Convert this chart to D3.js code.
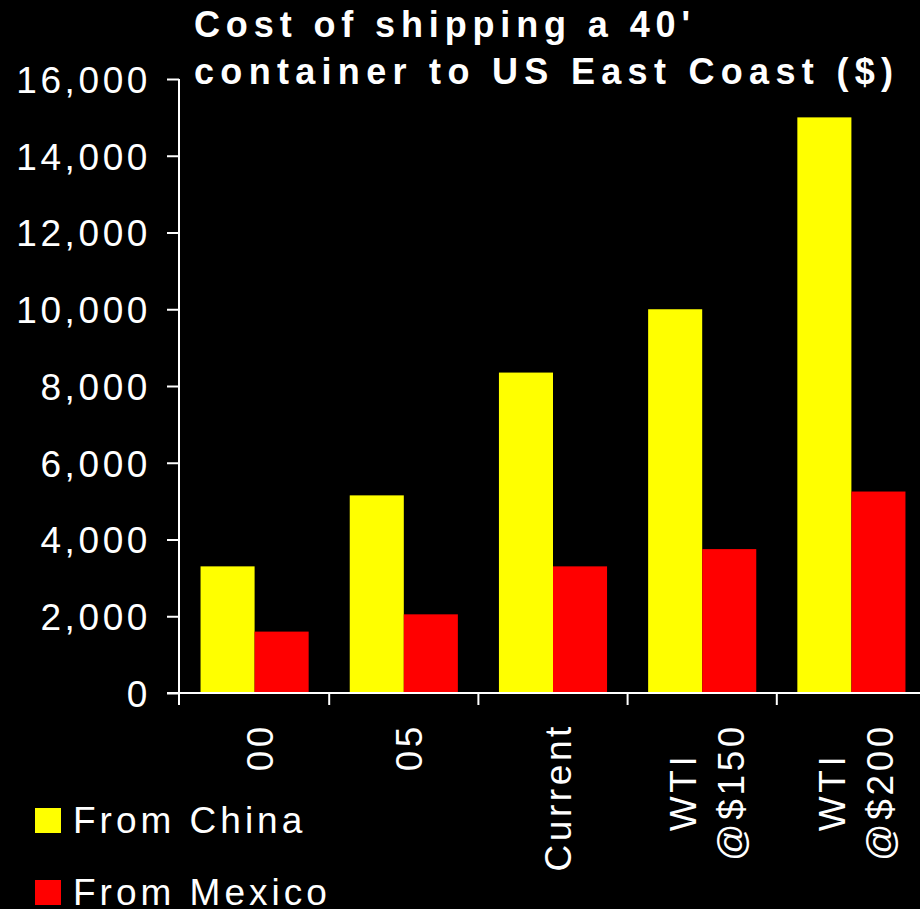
<!DOCTYPE html>
<html>
<head>
<meta charset="utf-8">
<script src="https://cdn.jsdelivr.net/npm/d3@7"></script>
<style>
  html, body { margin: 0; padding: 0; background: #000; }
  svg { display: block; }
  text { font-family: "Liberation Sans", Arial, sans-serif; fill: #fff; }
</style>
</head>
<body>
<div id="chart"></div>
<script>
// chart data
let categories = [["00"], ["05"], ["Current"], ["WTI", "@$150"], ["WTI", "@$200"]];
let fromChina = [3300, 5150, 8350, 10000, 15000];
let fromMexico = [1600, 2050, 3300, 3750, 5250];
let seriesNames = ["From China", "From Mexico"];
let seriesColors = ["#ffff00", "#ff0000"];
let yTicks = [0, 2000, 4000, 6000, 8000, 10000, 12000, 14000, 16000];
let titleLines = ["Cost of shipping a 40'", "container to US East Coast ($)"];

let width = 920, height = 909;
let plotLeft = 179, plotRight = 926, plotTop = 79, plotBottom = 693;

let svg = d3.select("#chart")
    .append("svg")
    .attr("width", width)
    .attr("height", height);

svg.append("rect").attr("width", width).attr("height", height).attr("fill", "#000");

let keys = categories.map(c => c.join(" "));

let x = d3.scaleBand()
    .domain(keys)
    .range([plotLeft + 1, plotRight])
    .padding(0);

let xSub = d3.scaleBand()
    .domain([0, 1])
    .range([0, x.bandwidth()])
    .paddingInner(0)
    .paddingOuter(0.38);

let y = d3.scaleLinear()
    .domain([0, 16000])
    .range([plotBottom, plotTop]);

let series = [fromChina, fromMexico];

// bars
series.forEach(function(vals, s) {
    svg.append("g").selectAll("rect")
        .data(vals)
        .enter()
        .append("rect")
        .attr("x", (d, i) => x(keys[i]) + xSub(s))
        .attr("y", d => y(d))
        .attr("width", xSub.bandwidth())
        .attr("height", d => plotBottom - y(d))
        .attr("fill", seriesColors[s]);
});

// y axis
let yAxis = d3.axisLeft(y)
    .tickValues(yTicks)
    .tickSize(12)
    .tickSizeOuter(0)
    .tickFormat(d3.format(","));

let yg = svg.append("g")
    .attr("transform", "translate(" + plotLeft + ",0)")
    .call(yAxis);
yg.select(".domain").remove();
yg.selectAll(".tick line").attr("stroke", "#fff").attr("stroke-width", 2);
yg.selectAll(".tick text")
    .attr("x", -28)
    .attr("dy", "0.36em")
    .style("font-size", "37px")
    .style("letter-spacing", "3.6px")
    .attr("fill", "#fff");

// axis lines
svg.append("line")
    .attr("x1", plotLeft).attr("x2", plotLeft)
    .attr("y1", plotTop).attr("y2", plotBottom + 12)
    .attr("stroke", "#fff").attr("stroke-width", 2);
svg.append("line")
    .attr("x1", plotLeft - 12).attr("x2", width)
    .attr("y1", plotBottom).attr("y2", plotBottom)
    .attr("stroke", "#fff").attr("stroke-width", 2);

// category boundary ticks
svg.append("g").selectAll("line")
    .data(keys.slice(1))
    .enter()
    .append("line")
    .attr("x1", d => x(d)).attr("x2", d => x(d))
    .attr("y1", plotBottom).attr("y2", plotBottom + 12)
    .attr("stroke", "#fff").attr("stroke-width", 2);

// category labels, rotated
categories.forEach(function(lines, i) {
    let cx = x(keys[i]) + x.bandwidth() / 2;
    let g = svg.append("g")
        .attr("transform", "translate(" + cx + "," + 723 + ") rotate(-90)");
    let texts = g.selectAll("text")
        .data(lines)
        .enter()
        .append("text")
        .attr("text-anchor", "middle")
        .attr("y", (d, j) => 18 - (lines.length - 1) * 24 + j * 48)
        .style("font-size", "37px")
        .style("letter-spacing", "3.6px")
        .text(d => d);
    let maxLen = d3.max(texts.nodes(), n => n.getComputedTextLength());
    texts.attr("x", -maxLen / 2);
});

// title
svg.append("g").selectAll("text")
    .data(titleLines)
    .enter()
    .append("text")
    .attr("x", 194)
    .attr("y", (d, i) => 37 + i * 46.5)
    .attr("textLength", (d, i) => i === 0 ? 496 : 699)
    .attr("lengthAdjust", "spacing")
    .style("font-size", "36px")
    .style("font-weight", "bold")
    .text(d => d);

// legend
let legend = svg.append("g").selectAll("g")
    .data(seriesNames)
    .enter()
    .append("g")
    .attr("transform", (d, i) => "translate(35," + (808 + i * 72) + ")");
legend.append("rect")
    .attr("width", 26).attr("height", 25)
    .attr("fill", (d, i) => seriesColors[i]);
legend.append("text")
    .attr("x", 38)
    .attr("y", 25)
    .style("font-size", "37px")
    .style("letter-spacing", "4px")
    .text(d => d);
</script>
</body>
</html>
